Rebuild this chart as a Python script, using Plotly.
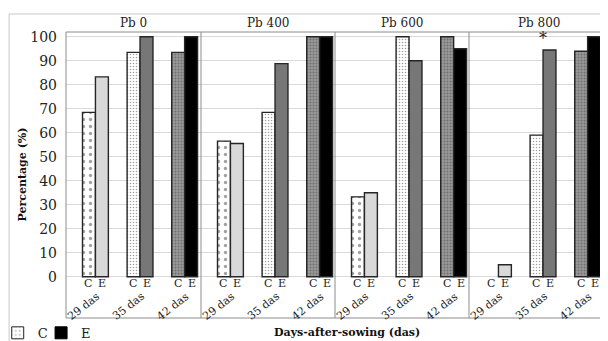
import plotly.graph_objects as go
from plotly.subplots import make_subplots

# ---- data ----
panels = ["Pb 0", "Pb 400", "Pb 600", "Pb 800"]
days = ["29 das", "35 das", "42 das"]
c_values = [
    [68.5, 93.5, 93.5],
    [56.5, 68.5, 100],
    [33.3, 100, 100],
    [0, 59, 94],
]
e_values = [
    [83.3, 100, 100],
    [55.5, 88.8, 100],
    [35, 90, 95],
    [5, 94.5, 100],
]
y_ticks = list(range(0, 101, 10))
star_panel = 3
star_day = "35 das"

# ---- styles ----
FONT = "DejaVu Serif"
c_colors = ["#ffffff", "#ffffff", "#9a9a9a"]
c_fg = ["#a8a8a8", "#b4b4b4", "#ffffff"]
c_shape = [".", ".", "."]
c_size = [7, 3, 3]
c_solid = [0.18, 0.22, 0.35]
e_colors = ["#d9d9d9", "#777777", "#000000"]
LINE_COLOR = "#262626"
LINE_W = 1.4

col_px = [135, 134, 134, 139]
unit_px = 44.6
x_start = -0.66

fig = make_subplots(rows=1, cols=4, shared_yaxes=True, horizontal_spacing=0,
                    column_widths=col_px)


def widths(vals):
    return [LINE_W if v else 0 for v in vals]


for i, p in enumerate(panels):
    col = i + 1
    fig.add_trace(go.Bar(
        x=days, y=c_values[i], name="C", showlegend=False,
        offset=-0.29, width=0.29,
        marker=dict(color=c_colors, line=dict(color=LINE_COLOR, width=widths(c_values[i])),
                    pattern=dict(shape=c_shape, fgcolor=c_fg, size=c_size,
                                 solidity=c_solid, fillmode="overlay")),
    ), row=1, col=col)
    fig.add_trace(go.Bar(
        x=days, y=e_values[i], name="E", showlegend=False,
        offset=0, width=0.29,
        marker=dict(color=e_colors, line=dict(color=LINE_COLOR, width=widths(e_values[i]))),
    ), row=1, col=col)

# legend-only traces
fig.add_trace(go.Bar(x=[None], y=[None], name="C", legend="legend",
                     marker=dict(color="#ffffff", line=dict(color="#262626", width=1),
                                 pattern=dict(shape=".", fgcolor="#a0a0a0", size=5,
                                              solidity=0.25, fillmode="overlay"))),
              row=1, col=1)
fig.add_trace(go.Bar(x=[None], y=[None], name="E", legend="legend2",
                     marker=dict(color="#000000", line=dict(color="#000000", width=1))),
              row=1, col=1)

annotations = []
shapes = []
for i, p in enumerate(panels):
    xa = "x" if i == 0 else f"x{i+1}"
    ya = "y" if i == 0 else f"y{i+1}"
    fig.update_xaxes(type="category", categoryorder="array", categoryarray=days,
                     range=[x_start, x_start + col_px[i] / unit_px],
                     showticklabels=False, showgrid=False, zeroline=False,
                     showline=False, row=1, col=i + 1)
    # header
    annotations.append(dict(text=p, x=0.5, xref=f"{xa} domain", y=1.03, yref="paper",
                            yanchor="middle", showarrow=False,
                            font=dict(family=FONT, size=12, color="#222")))
    for d in days:
        annotations.append(dict(text="C", x=d, xref=xa, y=-3, yref=ya, xshift=-7,
                                showarrow=False, font=dict(family=FONT, size=11, color="#222")))
        annotations.append(dict(text="E", x=d, xref=xa, y=-3, yref=ya, xshift=7,
                                showarrow=False, font=dict(family=FONT, size=11, color="#222")))
        annotations.append(dict(text=d, x=d, xref=xa, y=-12.2, yref=ya, xshift=-12,
                                textangle=-38, showarrow=False,
                                font=dict(family=FONT, size=11, color="#222")))
    # panel left border
    shapes.append(dict(type="line", xref=f"{xa} domain", yref="paper",
                       x0=0, x1=0, y0=0, y1=1, line=dict(color="#8c8c8c", width=1)))

annotations.append(dict(text="*", x=star_day, xref=f"x{star_panel+1}",
                        y=e_values[star_panel][days.index(star_day)], yref=f"y{star_panel+1}",
                        yshift=11, showarrow=False,
                        font=dict(family=FONT, size=16, color="#222")))
annotations.append(dict(text="<b>Days-after-sowing (das)</b>", x=0.518, xref="paper",
                        y=-0.052, yref="paper", xanchor="center", yanchor="middle",
                        showarrow=False, font=dict(family=FONT, size=11, color="#111")))
annotations.append(dict(text="<b>Percentage (%)</b>", x=-0.082, xref="paper",
                        y=0.5, yref="paper", xanchor="center", yanchor="middle",
                        textangle=-90, showarrow=False,
                        font=dict(family=FONT, size=11, color="#111")))

# panel top / bottom lines
shapes.append(dict(type="line", xref="paper", yref="paper", x0=0, x1=1.05, y0=1, y1=1,
                   line=dict(color="#8c8c8c", width=1)))
shapes.append(dict(type="line", xref="paper", yref="paper", x0=0, x1=1.05, y0=0, y1=0,
                   line=dict(color="#8c8c8c", width=1)))
# outer frame
shapes.append(dict(type="rect", xref="paper", yref="paper", x0=-0.105, x1=1.1,
                   y0=-0.3, y1=1.063, line=dict(color="#c8c8c8", width=1),
                   fillcolor="rgba(0,0,0,0)"))

fig.update_yaxes(range=[-17.2, 102], tickvals=y_ticks, showgrid=True,
                 gridcolor="#d9d9d9", gridwidth=1, zeroline=False, showline=False,
                 tickfont=dict(family=FONT, size=14, color="#222"),
                 ticklabelstandoff=8)

legend_style = dict(orientation="h", xanchor="left", y=-0.052, yanchor="middle",
                    font=dict(family=FONT, size=13, color="#222"), itemwidth=30,
                    bgcolor="rgba(0,0,0,0)")

# page body has an 8px default margin: shift the drawing up/left by that much
fig.update_layout(
    width=608, height=341,
    margin=dict(l=58, r=8, t=24, b=31, autoexpand=False),
    paper_bgcolor="white", plot_bgcolor="white",
    barmode="overlay",
    annotations=annotations, shapes=shapes,
    showlegend=True,
    legend=dict(x=-0.126, **legend_style),
    legend2=dict(x=-0.046, **legend_style),
    font=dict(family=FONT),
)

fig.write_html("out.html")
